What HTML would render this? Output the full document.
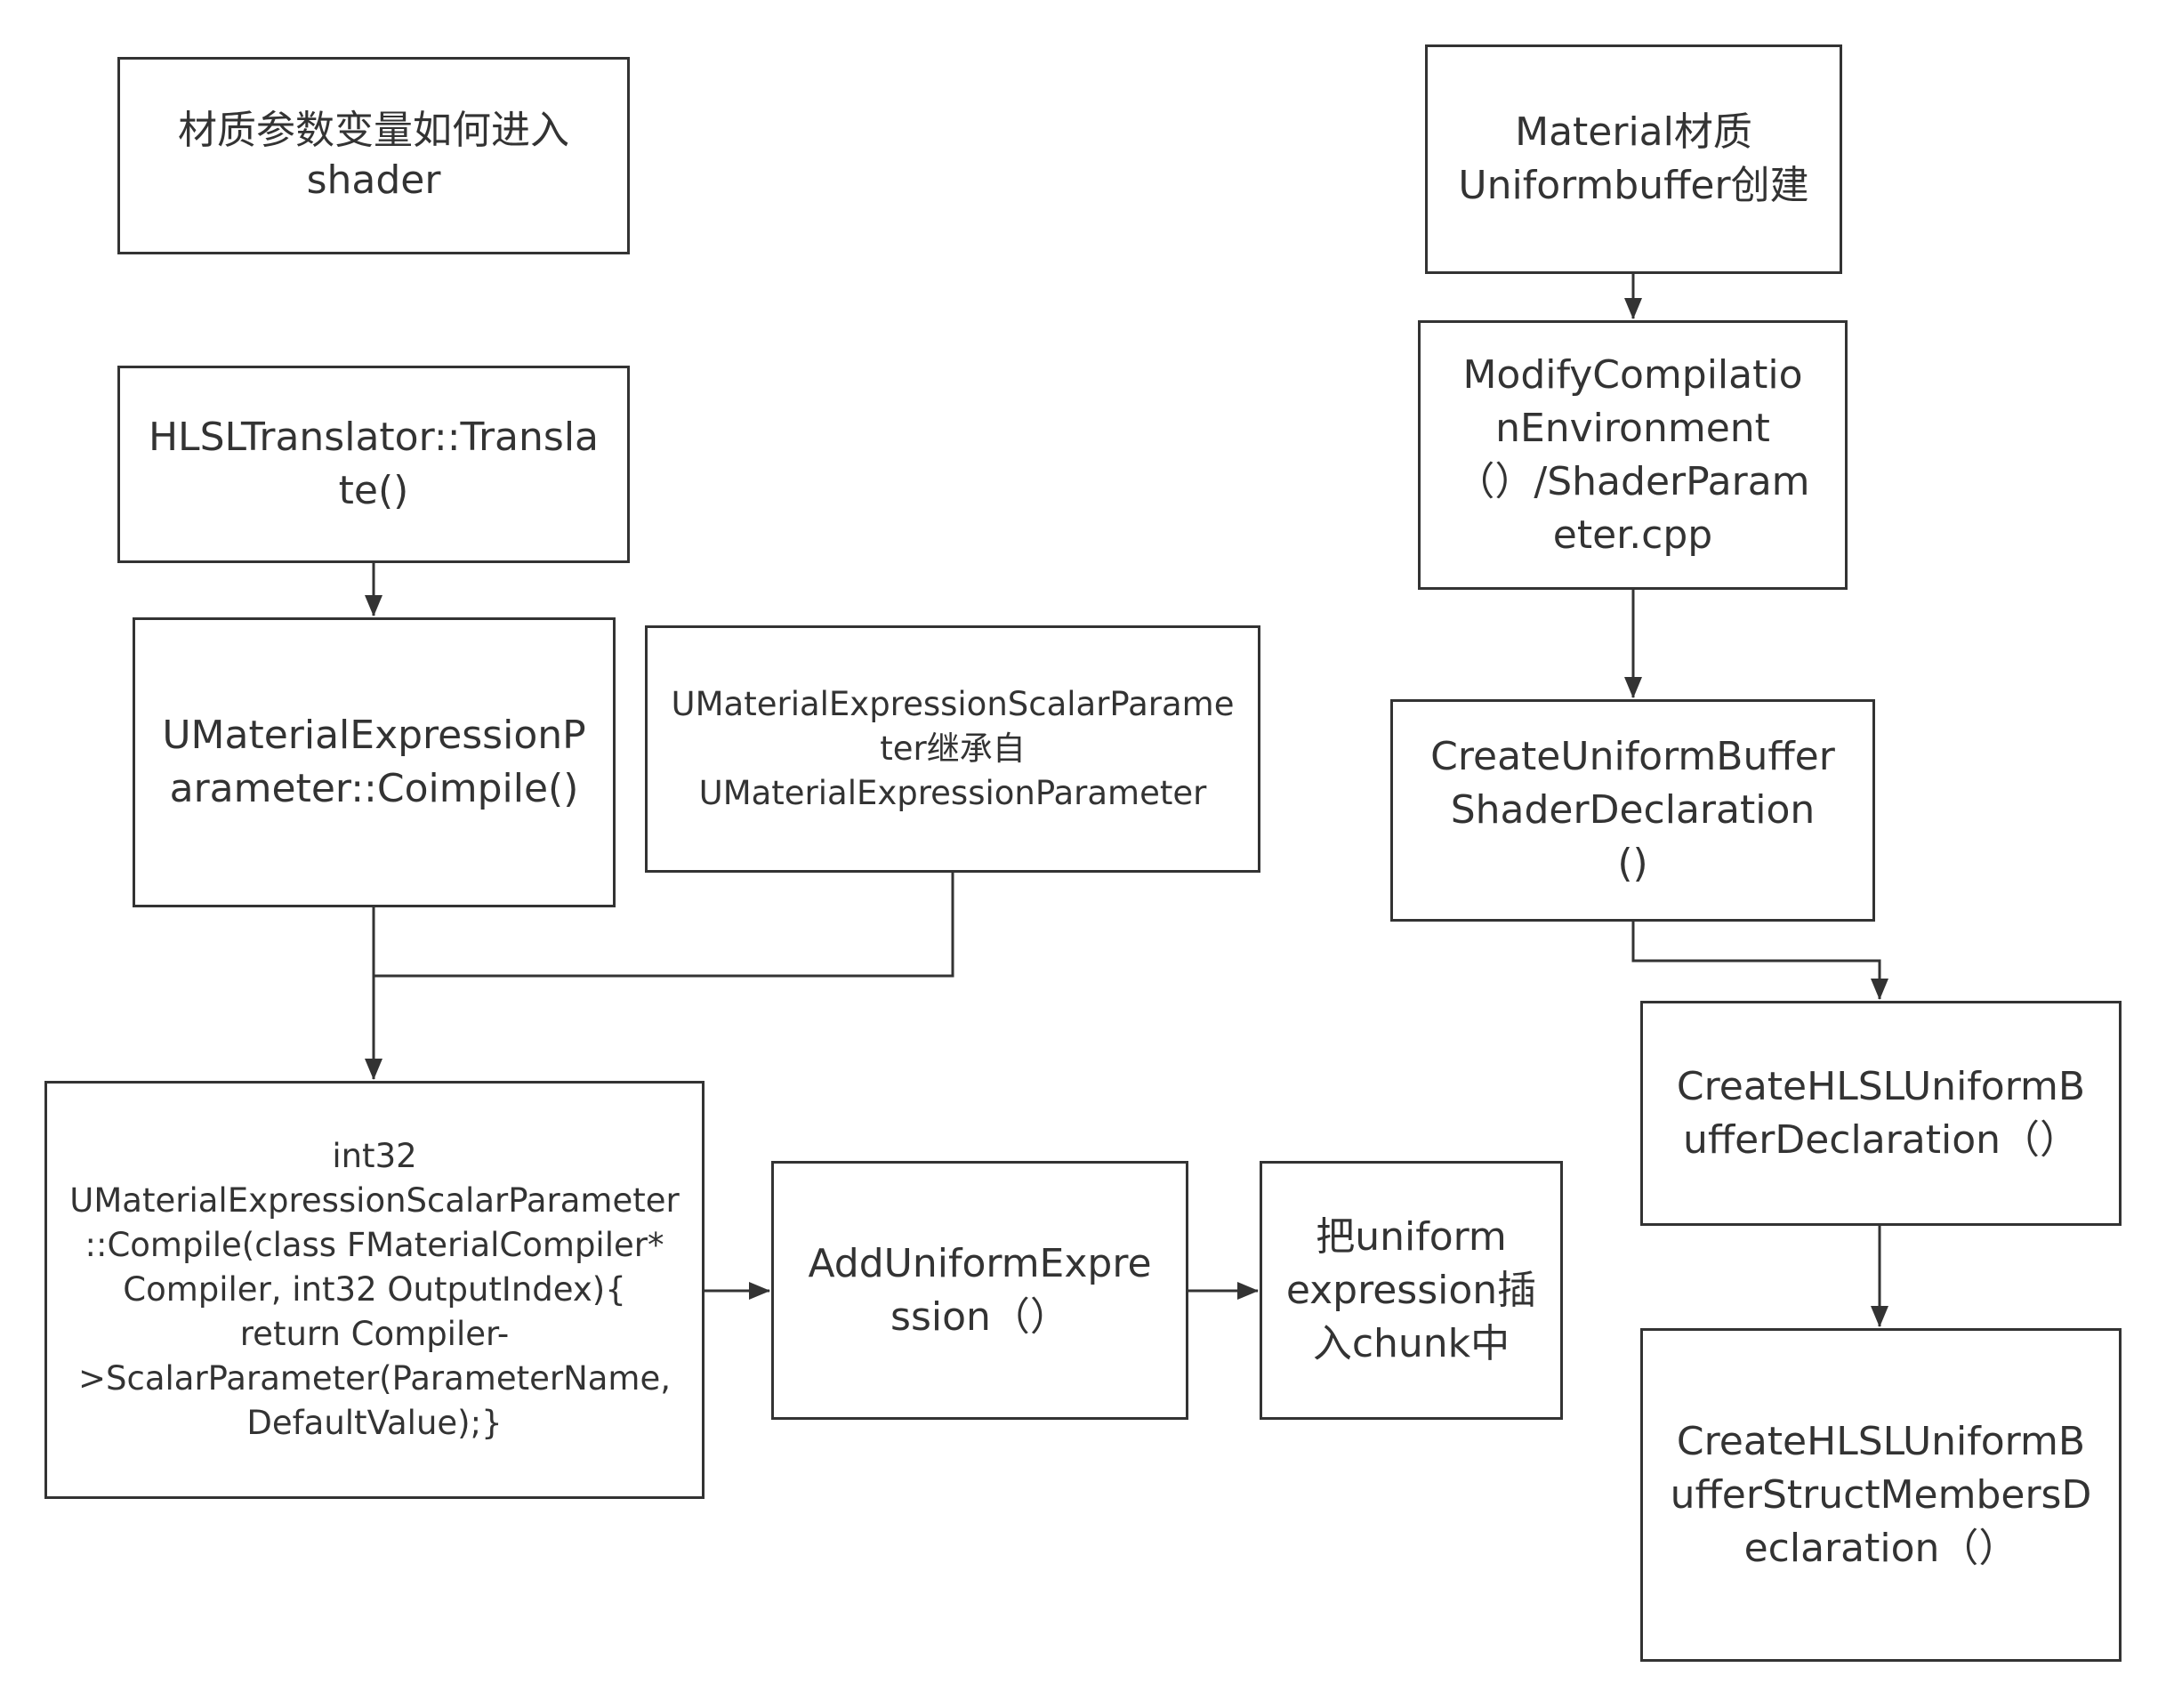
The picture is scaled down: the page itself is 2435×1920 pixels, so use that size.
<!DOCTYPE html>
<html><head><meta charset="utf-8"><style>
html,body{margin:0;padding:0;background:#fff;}
body{width:2435px;height:1920px;position:relative;overflow:hidden;font-family:"DejaVu Sans","Noto Sans CJK SC",sans-serif;color:#333;}
.b{position:absolute;box-sizing:border-box;border:3px solid #333;display:flex;align-items:center;justify-content:center;text-align:center;white-space:nowrap;font-size:44px;line-height:60px;}
.s{font-size:37px;line-height:50px;}
svg{position:absolute;left:0;top:0;}
</style></head><body>
<svg width="2435" height="1920">
<defs><marker id="A" markerWidth="24" markerHeight="20" refX="23" refY="10" orient="auto" markerUnits="userSpaceOnUse"><path d="M0,0 L24,10 L0,20 z" fill="#333"/></marker></defs>
<g stroke="#333" stroke-width="3" fill="none">
<path d="M420 633 V692" marker-end="url(#A)"/>
<path d="M420 1019 V1213" marker-end="url(#A)"/>
<path d="M1071 981 V1097 H420"/>
<path d="M791 1451 H865" marker-end="url(#A)"/>
<path d="M1336 1451 H1414" marker-end="url(#A)"/>
<path d="M1836 308 V358" marker-end="url(#A)"/>
<path d="M1836 663 V784" marker-end="url(#A)"/>
<path d="M1836 1036 V1080 H2113 V1123" marker-end="url(#A)"/>
<path d="M2113 1378 V1491" marker-end="url(#A)"/>
</g></svg>
<div class="b" style="left:132px;top:64px;width:576px;height:222px;line-height:56px;">材质参数变量如何进入<br>shader</div>
<div class="b" style="left:132px;top:411px;width:576px;height:222px;">HLSLTranslator::Transla<br>te()</div>
<div class="b" style="left:149px;top:694px;width:543px;height:326px;">UMaterialExpressionP<br>arameter::Coimpile()</div>
<div class="b s" style="left:725px;top:703px;width:692px;height:278px;">UMaterialExpressionScalarParame<br>ter继承自<br>UMaterialExpressionParameter</div>
<div class="b s" style="left:50px;top:1215px;width:742px;height:470px;">int32<br>UMaterialExpressionScalarParameter<br>::Compile(class FMaterialCompiler*<br>Compiler, int32 OutputIndex){<br>return Compiler-<br>&gt;ScalarParameter(ParameterName,<br>DefaultValue);}</div>
<div class="b" style="left:867px;top:1305px;width:469px;height:291px;">AddUniformExpre<br>ssion（）</div>
<div class="b" style="left:1416px;top:1305px;width:341px;height:291px;">把uniform<br>expression插<br>入chunk中</div>
<div class="b" style="left:1602px;top:50px;width:469px;height:258px;">Material材质<br>Uniformbuffer创建</div>
<div class="b" style="left:1594px;top:360px;width:483px;height:303px;">ModifyCompilatio<br>nEnvironment<br>（）/ShaderParam<br>eter.cpp</div>
<div class="b" style="left:1563px;top:786px;width:545px;height:250px;">CreateUniformBuffer<br>ShaderDeclaration<br>()</div>
<div class="b" style="left:1844px;top:1125px;width:541px;height:253px;">CreateHLSLUniformB<br>ufferDeclaration（）</div>
<div class="b" style="left:1844px;top:1493px;width:541px;height:375px;">CreateHLSLUniformB<br>ufferStructMembersD<br>eclaration（）</div>
</body></html>
